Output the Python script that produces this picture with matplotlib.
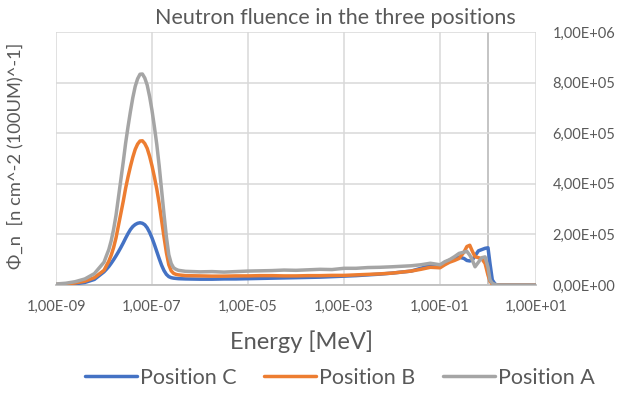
import matplotlib
matplotlib.use("Agg")
import matplotlib.pyplot as plt
from matplotlib.ticker import FixedLocator, FuncFormatter, NullLocator

# energy grid [MeV], shared by the three positions
energy = [
    1.0e-9, 1.6e-9, 2.5e-9, 4.0e-9, 6.3e-9, 1.0e-8, 1.12e-8,
    1.259e-8, 1.413e-8, 1.585e-8, 1.778e-8, 1.995e-8, 2.239e-8, 2.512e-8, 2.818e-8,
    3.162e-8, 3.548e-8, 3.981e-8, 4.467e-8, 5.012e-8, 5.623e-8, 6.310e-8, 7.079e-8,
    7.943e-8, 8.913e-8, 1.0e-7, 1.122e-7, 1.259e-7, 1.413e-7, 1.585e-7, 1.778e-7,
    1.995e-7, 2.239e-7, 2.512e-7, 2.818e-7, 3.162e-7,
    3.55e-7, 5.0e-7, 1.0e-6, 1.78e-6, 3.16e-6, 5.62e-6, 1.0e-5, 1.78e-5, 3.16e-5,
    5.62e-5, 1.0e-4, 1.78e-4, 3.16e-4, 5.62e-4, 1.0e-3, 1.78e-3, 3.16e-3, 5.62e-3,
    1.0e-2, 1.58e-2, 2.5e-2, 4.0e-2, 6.3e-2, 1.0e-1,
    1.26e-1, 1.58e-1, 2.0e-1, 2.5e-1, 3.16e-1, 3.63e-1, 4.17e-1, 4.68e-1, 5.37e-1,
    6.31e-1, 7.41e-1, 8.7e-1, 1.0, 1.1, 1.23, 1.41, 1.62, 2.09, 4.0, 10.0,
]

# fluence per position, read in units of 1e3
pos_c = [
    1, 3, 5, 10, 22, 52, 62,
    73, 86, 100, 115, 131, 148, 166, 185,
    203, 219, 231, 239, 244, 246, 244, 238,
    226, 208, 186, 160, 132, 104, 78, 57,
    42, 33, 29, 27, 26,
    25, 24, 23, 23, 24, 24, 25, 26, 27,
    28, 29, 30, 31, 33, 35, 37, 40, 43,
    47, 51, 55, 66, 78, 76,
    88, 98, 105, 110, 105, 97, 95, 98, 115,
    135, 140, 145, 147, 85, 20, 3, 0, 0, 0, 0,
]
pos_b = [
    2, 4, 8, 15, 29, 58, 76,
    94, 118, 148, 186, 234, 282, 330, 382,
    427, 468, 505, 536, 557, 569, 570, 559,
    540, 509, 471, 427, 379, 321, 256, 190,
    128, 80, 56, 46, 42,
    40, 37, 36, 35, 35, 36, 36, 37, 37,
    36, 36, 37, 37, 38, 38, 40, 42, 44,
    47, 51, 55, 62, 70, 68,
    80, 90, 97, 105, 130, 152, 157, 135, 112,
    108, 104, 85, 39, 15, 3, 0, 0, 0, 0, 0,
]
pos_a = [
    4, 7, 13, 24, 45, 90, 115,
    140, 175, 220, 275, 345, 415, 485, 560,
    625, 685, 740, 785, 815, 833, 834, 818,
    790, 745, 690, 625, 555, 470, 375, 280,
    190, 120, 85, 68, 62,
    58, 54, 52, 53, 51, 53, 55, 56, 57,
    59, 58, 60, 62, 61, 66, 66, 69, 70,
    72, 74, 76, 80, 86, 80,
    92, 100, 112, 125, 130, 133, 118, 100, 72,
    90, 108, 111, 70, 20, 7, 2, 0, 0, 0, 0,
]

series_names = ["Position C", "Position B", "Position A"]
series_colors = ["#4472C4", "#ED7D31", "#A5A5A5"]

x_ticks = [1e-9, 1e-7, 1e-5, 1e-3, 1e-1, 1e1]
y_ticks = [0, 2e5, 4e5, 6e5, 8e5, 1e6]

plt.rcParams["font.family"] = ["Lato", "DejaVu Sans"]
txt = "#595959"
grid_c = "#D9D9D9"
axis_c = "#BFBFBF"

fig = plt.figure(figsize=(6.42, 3.94), dpi=100)
ax = fig.add_axes([56 / 642, 1 - 285 / 394, 480 / 642, 253 / 394])

for vals, name, col in zip([pos_c, pos_b, pos_a], series_names, series_colors):
    ax.plot(energy, [v * 1e3 for v in vals], color=col, lw=2.5, label=name,
            solid_joinstyle="round", solid_capstyle="round", zorder=3)

ax.set_xscale("log")
ax.set_xlim(x_ticks[0], x_ticks[-1])
ax.set_ylim(y_ticks[0], y_ticks[-1])
ax.xaxis.set_major_locator(FixedLocator(x_ticks))
ax.xaxis.set_minor_locator(NullLocator())
ax.yaxis.set_major_locator(FixedLocator(y_ticks))


def excel_sci(v, pos):
    return f"{v:.2E}".replace(".", ",")


ax.xaxis.set_major_formatter(FuncFormatter(excel_sci))
ax.yaxis.set_major_formatter(FuncFormatter(excel_sci))
ax.yaxis.tick_right()
ax.tick_params(axis="both", length=0, labelsize=10.5, colors=txt)
ax.tick_params(axis="x", pad=11)
ax.tick_params(axis="y", pad=12)

ax.grid(True, color=grid_c, lw=1.1, zorder=0)
for side in ["top", "right", "left"]:
    ax.spines[side].set_visible(False)
ax.spines["bottom"].set_color(axis_c)
ax.spines["bottom"].set_linewidth(1.3)
# value axis crosses the log axis at 1
ax.axvline(1.0, color=axis_c, lw=1.3, zorder=1)

fig.text(335 / 642, 1 - 18 / 394, "Neutron fluence in the three positions",
         ha="center", va="center", fontsize=15.5, color=txt)
fig.text(15 / 642, 1 - 156 / 394, "Φ_n  [n cm^-2 (100UM)^-1]", rotation=90,
         ha="center", va="center", fontsize=13.2, color=txt)
fig.text(302 / 642, 1 - 342 / 394, "Energy [MeV]", ha="center", va="center",
         fontsize=17, color=txt)

fig.legend(loc="center", bbox_to_anchor=(340 / 642, 1 - 378 / 394), ncol=3,
           frameon=False, fontsize=15.5, labelcolor=txt, handlelength=2.4,
           handletextpad=0.15, columnspacing=1.3)

fig.savefig("out.png", dpi=100)
